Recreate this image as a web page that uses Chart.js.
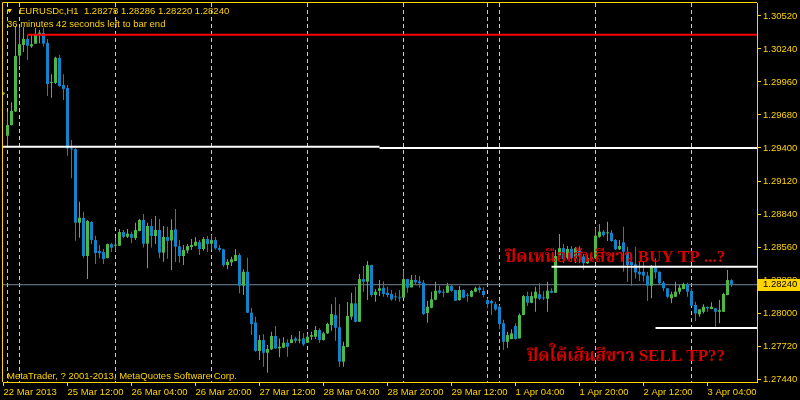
<!DOCTYPE html>
<html>
<head>
<meta charset="utf-8">
<script src="https://cdn.jsdelivr.net/npm/chart.js@4.4.1/dist/chart.umd.min.js"></script>
<style>
  html, body { margin: 0; padding: 0; background: #000; }
  canvas { display: block; }
</style>
</head>
<body>
<canvas id="c" width="800" height="400"></canvas>
<script>
// EURUSDc H1 bars, 22 Mar 2013 (last bar of Friday) .. 3 Apr 2013 10:00
const opens = [1.29858,
  1.29504, 1.29595, 1.29710, 1.30183, 1.30274, 1.30325, 1.30263, 1.30285, 1.30365, 1.30376,
  1.30291, 1.29952, 1.29952, 1.30164, 1.29935, 1.29909, 1.29397, 1.29390, 1.28766, 1.28806,
  1.28484, 1.28772, 1.28619, 1.28526, 1.28518, 1.28467, 1.28585, 1.28571, 1.28571, 1.28687,
  1.28647, 1.28670, 1.28636, 1.28696, 1.28789, 1.28588, 1.28738, 1.28653, 1.28704, 1.28512,
  1.28645, 1.28616, 1.28710, 1.28566, 1.28484, 1.28530, 1.28560, 1.28570, 1.28602, 1.28543,
  1.28628, 1.28588, 1.28619, 1.28552, 1.28540, 1.28407, 1.28430, 1.28441, 1.28492, 1.28232,
  1.28350, 1.28003, 1.27920, 1.27678, 1.27771, 1.27663, 1.27692, 1.27805, 1.27700, 1.27706,
  1.27748, 1.27745, 1.27785, 1.27766, 1.27785, 1.27748, 1.27799, 1.27799, 1.27856, 1.27771,
  1.27828, 1.27898, 1.27983, 1.27879, 1.27587, 1.27712, 1.27969, 1.28082, 1.27926, 1.28288,
  1.28266, 1.28407, 1.28153, 1.28189, 1.28215, 1.28172, 1.28161, 1.28138, 1.28133, 1.28130,
  1.28288, 1.28218, 1.28280, 1.28268, 1.28257, 1.28000, 1.28045, 1.28113, 1.28192, 1.28178,
  1.28172, 1.28229, 1.28195, 1.28110, 1.28195, 1.28153, 1.28138, 1.28181, 1.28215, 1.28187,
  1.28110, 1.28102, 1.28076, 1.28053, 1.27913, 1.27756, 1.27779, 1.27890, 1.27785, 1.27983,
  1.28144, 1.28087, 1.28125, 1.28160, 1.28130, 1.28121, 1.28189, 1.28172, 1.28490, 1.28551,
  1.28470, 1.28545, 1.28467, 1.28545, 1.28480, 1.28422, 1.28458, 1.28464, 1.28647, 1.28690,
  1.28676, 1.28681, 1.28619, 1.28540, 1.28600, 1.28520, 1.28435, 1.28413, 1.28350, 1.28350,
  1.28317, 1.28232, 1.28388, 1.28350, 1.28257, 1.28210, 1.28125, 1.28138, 1.28181, 1.28204,
  1.28246, 1.28187, 1.28068, 1.27989, 1.28011, 1.28053, 1.28034, 1.28040, 1.28011, 1.28011,
  1.28153, 1.28278];
const highs = [1.29875,
  1.29708, 1.29788, 1.30435, 1.30416, 1.30427, 1.30359, 1.30359, 1.30418, 1.30401, 1.30421,
  1.30325, 1.30025, 1.30175, 1.30189, 1.30025, 1.29935, 1.29468, 1.29397, 1.28944, 1.28860,
  1.28789, 1.28778, 1.28656, 1.28577, 1.28543, 1.28588, 1.28594, 1.28639, 1.28713, 1.28704,
  1.28713, 1.28690, 1.28766, 1.28798, 1.28840, 1.28766, 1.28798, 1.28823, 1.28798, 1.28738,
  1.28732, 1.28795, 1.28882, 1.28619, 1.28577, 1.28585, 1.28628, 1.28645, 1.28619, 1.28645,
  1.28653, 1.28662, 1.28645, 1.28577, 1.28545, 1.28456, 1.28478, 1.28543, 1.28507, 1.28371,
  1.28469, 1.28042, 1.27969, 1.27813, 1.27819, 1.27728, 1.27841, 1.27890, 1.27785, 1.27794,
  1.27777, 1.27813, 1.27799, 1.27847, 1.27828, 1.27822, 1.27841, 1.27890, 1.27870, 1.27841,
  1.27918, 1.28074, 1.28133, 1.28076, 1.27756, 1.28093, 1.28172, 1.28223, 1.28331, 1.28399,
  1.28441, 1.28410, 1.28201, 1.28280, 1.28269, 1.28223, 1.28195, 1.28172, 1.28195, 1.28365,
  1.28290, 1.28322, 1.28322, 1.28314, 1.28280, 1.28102, 1.28181, 1.28266, 1.28232, 1.28201,
  1.28257, 1.28243, 1.28197, 1.28229, 1.28201, 1.28172, 1.28195, 1.28223, 1.28232, 1.28218,
  1.28125, 1.28112, 1.28096, 1.28068, 1.27942, 1.27841, 1.27862, 1.27913, 1.27997, 1.28153,
  1.28181, 1.28181, 1.28223, 1.28252, 1.28184, 1.28266, 1.28210, 1.28536, 1.28670, 1.28585,
  1.28568, 1.28568, 1.28560, 1.28568, 1.28501, 1.28492, 1.28518, 1.28721, 1.28755, 1.28704,
  1.28775, 1.28704, 1.28628, 1.28619, 1.28732, 1.28562, 1.28437, 1.28562, 1.28435, 1.28435,
  1.28350, 1.28407, 1.28464, 1.28352, 1.28272, 1.28212, 1.28181, 1.28266, 1.28238, 1.28257,
  1.28257, 1.28210, 1.28096, 1.28033, 1.28074, 1.28055, 1.28091, 1.28042, 1.28110, 1.28172,
  1.28366, 1.28286];
const lows = [1.29850,
  1.29403, 1.29590, 1.29705, 1.30104, 1.30215, 1.30147, 1.30251, 1.30282, 1.30288, 1.30260,
  1.29841, 1.29827, 1.29943, 1.29918, 1.29807, 1.29335, 1.29143, 1.28613, 1.28639, 1.28469,
  1.28288, 1.28583, 1.28416, 1.28464, 1.28416, 1.28463, 1.28518, 1.28526, 1.28568, 1.28634,
  1.28636, 1.28591, 1.28619, 1.28693, 1.28557, 1.28379, 1.28557, 1.28585, 1.28464, 1.28435,
  1.28461, 1.28365, 1.28433, 1.28427, 1.28407, 1.28507, 1.28535, 1.28566, 1.28492, 1.28529,
  1.28518, 1.28535, 1.28540, 1.28520, 1.28393, 1.28371, 1.28399, 1.28440, 1.28167, 1.28153,
  1.28000, 1.27813, 1.27672, 1.27601, 1.27544, 1.27493, 1.27686, 1.27698, 1.27624, 1.27704,
  1.27629, 1.27745, 1.27743, 1.27743, 1.27720, 1.27745, 1.27771, 1.27779, 1.27748, 1.27768,
  1.27822, 1.27850, 1.27765, 1.27544, 1.27544, 1.27710, 1.27942, 1.27920, 1.27923, 1.28181,
  1.28110, 1.28138, 1.28096, 1.28144, 1.28138, 1.28133, 1.28104, 1.28104, 1.28096, 1.28127,
  1.28172, 1.28216, 1.28238, 1.28215, 1.27983, 1.27918, 1.28040, 1.28108, 1.28161, 1.28133,
  1.28170, 1.28181, 1.28102, 1.28104, 1.28125, 1.28096, 1.28133, 1.28176, 1.28172, 1.28133,
  1.28040, 1.27983, 1.28020, 1.27862, 1.27686, 1.27703, 1.27777, 1.27775, 1.27783, 1.27981,
  1.28059, 1.28082, 1.28011, 1.28110, 1.28110, 1.28011, 1.28167, 1.28170, 1.28480, 1.28424,
  1.28455, 1.28433, 1.28424, 1.28424, 1.28365, 1.28416, 1.28441, 1.28460, 1.28639, 1.28647,
  1.28611, 1.28605, 1.28535, 1.28535, 1.28350, 1.28266, 1.28232, 1.28294, 1.28272, 1.28266,
  1.28102, 1.28125, 1.28294, 1.28238, 1.28187, 1.28125, 1.28082, 1.28136, 1.28159, 1.28202,
  1.28138, 1.28060, 1.27932, 1.27969, 1.27997, 1.28011, 1.28032, 1.27884, 1.27913, 1.28009,
  1.28150, 1.28220];
const closes = [1.29869,
  1.29595, 1.29714, 1.30181, 1.30280, 1.30325, 1.30268, 1.30280, 1.30367, 1.30378, 1.30285,
  1.29943, 1.29960, 1.30166, 1.29926, 1.29901, 1.29397, 1.29389, 1.28766, 1.28809, 1.28484,
  1.28781, 1.28619, 1.28509, 1.28507, 1.28458, 1.28585, 1.28554, 1.28580, 1.28687, 1.28647,
  1.28673, 1.28639, 1.28704, 1.28789, 1.28588, 1.28738, 1.28653, 1.28704, 1.28512, 1.28645,
  1.28613, 1.28704, 1.28563, 1.28484, 1.28535, 1.28568, 1.28577, 1.28605, 1.28543, 1.28628,
  1.28585, 1.28619, 1.28549, 1.28535, 1.28407, 1.28435, 1.28456, 1.28492, 1.28232, 1.28350,
  1.28003, 1.27907, 1.27678, 1.27771, 1.27663, 1.27695, 1.27805, 1.27700, 1.27714, 1.27748,
  1.27714, 1.27777, 1.27765, 1.27775, 1.27734, 1.27799, 1.27813, 1.27856, 1.27771, 1.27828,
  1.27907, 1.27992, 1.27875, 1.27587, 1.27720, 1.27975, 1.28082, 1.27926, 1.28288, 1.28266,
  1.28407, 1.28153, 1.28181, 1.28210, 1.28161, 1.28153, 1.28116, 1.28133, 1.28125, 1.28288,
  1.28215, 1.28280, 1.28260, 1.28252, 1.27992, 1.28053, 1.28116, 1.28189, 1.28172, 1.28172,
  1.28232, 1.28189, 1.28104, 1.28195, 1.28130, 1.28146, 1.28187, 1.28210, 1.28195, 1.28153,
  1.28076, 1.28082, 1.28031, 1.27907, 1.27756, 1.27813, 1.27828, 1.27779, 1.27983, 1.28144,
  1.28087, 1.28144, 1.28181, 1.28121, 1.28125, 1.28189, 1.28172, 1.28484, 1.28551, 1.28458,
  1.28543, 1.28467, 1.28551, 1.28484, 1.28422, 1.28467, 1.28475, 1.28656, 1.28690, 1.28662,
  1.28684, 1.28611, 1.28540, 1.28568, 1.28520, 1.28407, 1.28407, 1.28345, 1.28328, 1.28317,
  1.28232, 1.28388, 1.28345, 1.28252, 1.28210, 1.28138, 1.28159, 1.28181, 1.28215, 1.28246,
  1.28181, 1.28062, 1.27997, 1.28031, 1.28053, 1.28040, 1.28053, 1.28011, 1.28025, 1.28161,
  1.28280, 1.28240];

// time axis: bar index of each label, and the label text
const timeTicks = [0, 16, 32, 48, 64, 80, 96, 112, 128, 144, 160, 176];
const timeLabels = ['22 Mar 2013', '25 Mar 12:00', '26 Mar 04:00', '26 Mar 20:00', '27 Mar 12:00',
  '28 Mar 04:00', '28 Mar 20:00', '29 Mar 12:00', '1 Apr 04:00', '1 Apr 20:00', '2 Apr 12:00', '3 Apr 04:00'];
// period separators (first bar of each day)
const dayStarts = [1, 4, 28, 52, 76, 100, 121, 124, 148, 172];

const priceTicks = [1.27440, 1.27720, 1.28000, 1.28280, 1.28560, 1.28840, 1.29120,
  1.29400, 1.29680, 1.29960, 1.30240, 1.30520];

// drawn horizontal levels: [price, first bar index or null for left edge, last index or null for right edge]
const redLevel = [1.30361, 6, null];
const whiteLevels = [[1.29410, null, 94], [1.29400, 94, null], [1.28393, 137, null], [1.27873, 163, null]];

const FG = '#FFD400';
const UP = '#4CB848';
const DN = '#1183C8';
const FONT = "'Liberation Sans', Arial, sans-serif";
const FS = 9.5;
const X_MIN = -0.125, X_MAX = 188.375;
const Y_MIN = 1.27415, Y_MAX = 1.30630;

const idx = opens.map((_, i) => i);
const barColors = idx.map(i => closes[i] >= opens[i] ? UP : DN);
const last = closes.length - 1;

const levelSet = (lv, color, order) => ({
  type: 'line',
  data: [{ x: lv[1] == null ? X_MIN : lv[1], y: lv[0] }, { x: lv[2] == null ? X_MAX : lv[2], y: lv[0] }],
  borderColor: color, borderWidth: 2, pointRadius: 0, order
});

const overlay = {
  id: 'overlay',
  beforeDatasetsDraw(chart) {
    const { ctx, chartArea: a, scales: { x } } = chart;
    ctx.save();
    ctx.strokeStyle = FG;
    ctx.lineWidth = 1;
    ctx.setLineDash([4, 3]);
    dayStarts.forEach(i => {
      const px = Math.floor(x.getPixelForValue(i)) + 0.5;
      ctx.beginPath();
      ctx.moveTo(px, a.top);
      ctx.lineTo(px, a.bottom);
      ctx.stroke();
    });
    ctx.restore();
  },
  afterDraw(chart) {
    const { ctx, chartArea: a, scales: { y } } = chart;
    ctx.save();
    // frame top / left
    ctx.strokeStyle = FG;
    ctx.lineWidth = 1;
    ctx.beginPath();
    ctx.moveTo(2.5, a.bottom);
    ctx.lineTo(2.5, 2.5);
    ctx.lineTo(a.right, 2.5);
    ctx.stroke();

    // header
    ctx.fillStyle = FG;
    ctx.beginPath();
    ctx.moveTo(7, 9); ctx.lineTo(12, 9); ctx.lineTo(9.5, 13); ctx.closePath();
    ctx.fill();
    ctx.font = FS + 'px ' + FONT;
    ctx.textBaseline = 'middle';
    ctx.textAlign = 'left';
    const f = v => v.toFixed(5);
    ctx.fillText(`EURUSDc,H1  ${f(opens[last])} ${f(highs[last])} ${f(lows[last])} ${f(closes[last])}`, 19, 11);
    ctx.fillText('36 minutes 42 seconds left to bar end', 7, 24);
    ctx.fillText('MetaTrader, ? 2001-2013, MetaQuotes Software Corp.', 7, 376);

    // notes
    ctx.fillStyle = '#D80000';
    ctx.font = "bold 17px 'Liberation Serif', 'Noto Serif Thai', 'Noto Sans Thai', serif";
    ctx.textBaseline = 'alphabetic';
    ctx.fillText('ปิดเหนือเส้นสีขาว BUY TP ...?', 505, 262);
    ctx.fillText('ปิดใต้เส้นสีขาว SELL TP??', 527, 361);

    // current price box
    const py = y.getPixelForValue(closes[last]);
    ctx.fillStyle = FG;
    ctx.fillRect(a.right + 1, Math.round(py) - 6, 800 - a.right - 1, 12);
    ctx.fillStyle = '#000';
    ctx.font = FS + 'px ' + FONT;
    ctx.textBaseline = 'middle';
    ctx.fillText(f(closes[last]), a.right + 6, py);
    ctx.restore();
  }
};

new Chart(document.getElementById('c'), {
  type: 'bar',
  data: {
    datasets: [
      levelSet(redLevel, '#FF0000', 0),
      ...whiteLevels.map(lv => levelSet(lv, '#FFFFFF', 0)),
      {
        type: 'bar', order: 1, grouped: false,
        data: idx.map(i => ({ x: i, y: [opens[i], closes[i]] })),
        backgroundColor: barColors, barThickness: 3, minBarLength: 1, inflateAmount: 0
      },
      {
        type: 'bar', order: 2, grouped: false,
        data: idx.map(i => ({ x: i, y: [lows[i], highs[i]] })),
        backgroundColor: barColors, barThickness: 1, inflateAmount: 0
      },
      {
        type: 'line', order: 3,
        data: [{ x: X_MIN, y: closes[last] }, { x: X_MAX, y: closes[last] }],
        borderColor: '#778899', borderWidth: 1, pointRadius: 0
      }
    ]
  },
  options: {
    responsive: false,
    animation: false,
    events: [],
    layout: { padding: { left: 3, top: 3, right: 0, bottom: 0 } },
    plugins: { legend: { display: false }, tooltip: { enabled: false } },
    scales: {
      x: {
        type: 'linear', min: X_MIN, max: X_MAX, offset: false,
        afterBuildTicks: s => { s.ticks = timeTicks.map(v => ({ value: v })); },
        afterFit: s => { s.height = 18; s.paddingLeft = 0; s.paddingRight = 0; },
        ticks: {
          color: FG, font: { family: FONT, size: FS }, padding: 1, align: 'start',
          autoSkip: false, maxRotation: 0, minRotation: 0,
          callback: (v, i) => timeLabels[i]
        },
        grid: { offset: false, drawOnChartArea: false, drawTicks: true, tickLength: 4, color: FG },
        border: { display: true, color: FG, width: 1 }
      },
      y: {
        type: 'linear', position: 'right', min: Y_MIN, max: Y_MAX,
        afterBuildTicks: s => { s.ticks = priceTicks.map(v => ({ value: v })); },
        afterFit: s => { s.width = 43; s.paddingTop = 0; s.paddingBottom = 0; },
        ticks: { color: FG, font: { family: FONT, size: FS }, padding: 2, callback: v => v.toFixed(5) },
        grid: { drawOnChartArea: false, drawTicks: true, tickLength: 4, color: FG },
        border: { display: true, color: FG, width: 1 }
      }
    }
  },
  plugins: [overlay]
});
</script>
</body>
</html>
